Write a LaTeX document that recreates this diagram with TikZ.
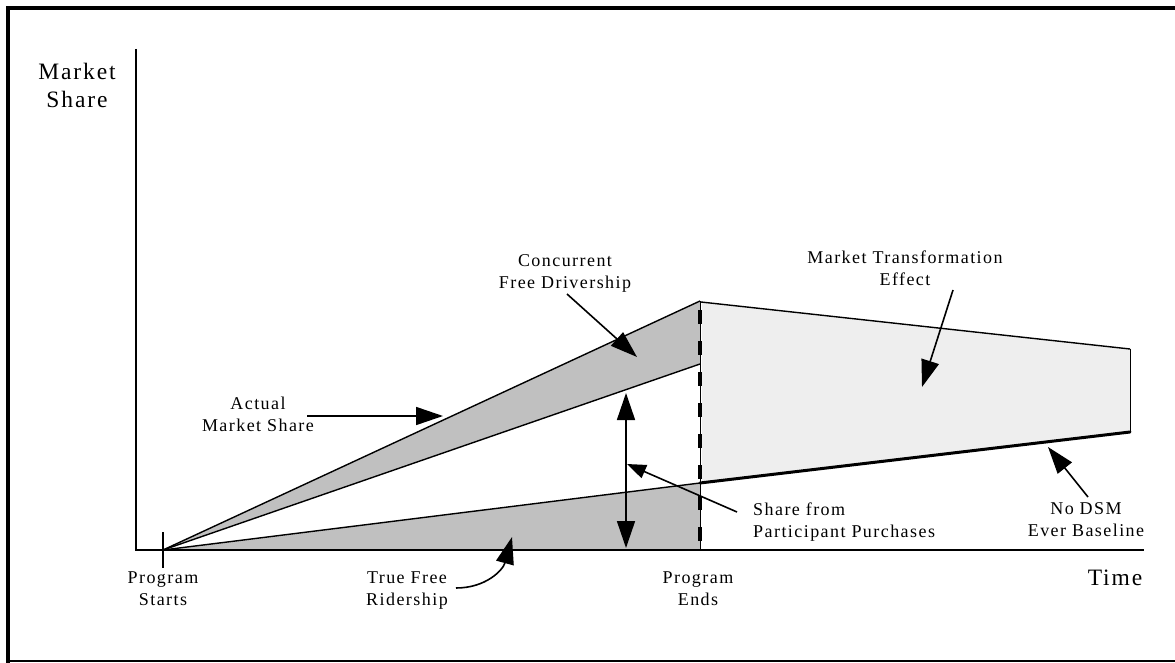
\documentclass[tikz,border=0pt]{standalone}
\usepackage{fontspec}
\setmainfont{Liberation Serif}[LetterSpace=8]
\usetikzlibrary{arrows.meta}
\definecolor{bandgray}{HTML}{C0C0C0}
\definecolor{effectgray}{HTML}{EEEEEE}
\begin{document}
\begin{tikzpicture}[x=1pt,y=-1pt,
  lbl/.style={font=\fontsize{18}{22}\selectfont, align=center, inner sep=0pt},
  big/.style={font=\fontsize{23.5}{28}\selectfont, align=center, inner sep=0pt},
  pointer/.style={line width=1.6pt, -{Triangle[length=27pt,width=18pt]}},
  smallpointer/.style={line width=1.6pt, -{Triangle[length=19pt,width=14pt]}},
  edge/.style={line width=1.4pt, line join=round}]
\useasboundingbox (0,0) rectangle (1175,663);

% page frame
\draw[line width=4.5pt] (8,663) -- (8,8) -- (1175,8);
\draw[line width=1.5pt] (8,661) -- (1175,661);

% key points of the chart
\coordinate (O)     at (163,550);
\coordinate (Ptop)  at (700,301);
\coordinate (Pmid)  at (700,364);
\coordinate (Pbase) at (700,483);
\coordinate (Paxis) at (700,550);
\coordinate (Etop)  at (1130,349);
\coordinate (Ebase) at (1130,432);

% shaded areas
\fill[effectgray] (702,302) -- (Etop) -- (Ebase) -- (702,483) -- cycle;
\fill[bandgray] (O) -- (Ptop) -- (Pmid) -- cycle;
\fill[bandgray] (O) -- (Pbase) -- (Paxis) -- cycle;

% outlines
\draw[edge] (O) -- (Ptop);
\draw[edge] (O) -- (Pmid);
\draw[edge] (O) -- (Pbase);
\draw[edge] (701,302) -- (Etop);
\draw[line width=1pt] (Etop) -- (Ebase);
\draw[line width=3pt, line cap=round] (Pbase) -- (Ebase);

% axes and start tick
\draw[line width=2pt] (136,49) -- (136,550) -- (1144,550);
\draw[line width=2pt] (163,532) -- (163,568);

% program end marker
\draw[line width=0.8pt] (700,301) -- (Paxis);
\draw[line width=3.5pt, dash pattern=on 14pt off 17pt] (700,310) -- (Paxis);

% labels
\node[big] (ylab) at (77,85) {Market\\Share};
\node[big] (xlab) at (1115,578) {Time};
\node[lbl] (start) at (163,589) {Program\\Starts};
\node[lbl] (ends) at (698,589) {Program\\Ends};
\node[lbl] (tfr) at (407,591) {True Free\\Ridership};
\node[lbl] (actual) at (258,414) {Actual\\Market Share};
\node[lbl] (cfd) at (565,273) {Concurrent\\Free Drivership};
\node[lbl] (mte) at (905,268) {Market Transformation\\Effect};
\node[lbl, align=left, anchor=west] (share) at (753,522) {Share from\\Participant Purchases};
\node[lbl] (nodsm) at (1086,520) {No DSM\\Ever Baseline};

% arrow ends
\coordinate (aS) at (307,416);  \coordinate (aT) at (443,416);
\coordinate (cS) at (567,294);  \coordinate (cT) at (637,357);
\coordinate (dT) at (626,393);  \coordinate (dB) at (626,548);
\coordinate (sS) at (737,512);  \coordinate (sT) at (627,464);
\coordinate (mS) at (953,290);  \coordinate (mT) at (922,387);
\coordinate (nS) at (1088,497); \coordinate (nT) at (1048,447);
\coordinate (tS) at (456,588);  \coordinate (tT) at (512,537);

% arrows
\draw[pointer] (aS) -- (aT);
\draw[pointer] (cS) -- (cT);
\draw[line width=1.6pt, {Triangle[length=27pt,width=18pt]}-{Triangle[length=27pt,width=18pt]}] (dT) -- (dB);
\draw[smallpointer] (sS) -- (sT);
\draw[pointer] (mS) -- (mT);
\draw[pointer] (nS) -- (nT);
\draw[pointer] (tS) .. controls (486,588) and (503,570) .. (tT);
\end{tikzpicture}
\end{document}
